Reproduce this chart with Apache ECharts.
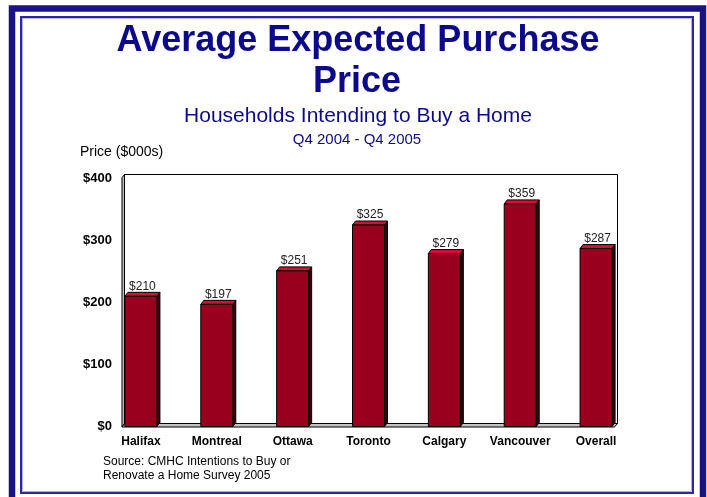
<!DOCTYPE html>
<html>
<head>
<meta charset="utf-8">
<script src="https://cdn.jsdelivr.net/npm/echarts@6/dist/echarts.min.js"></script>
<style>
  html, body { margin: 0; padding: 0; background: #fff; }
  #chart { width: 707px; height: 497px; }
</style>
</head>
<body>
<div id="chart"></div>
<script>
// data
const cities = ['Halifax', 'Montreal', 'Ottawa', 'Toronto', 'Calgary', 'Vancouver', 'Overall'];
const prices = [210, 197, 251, 325, 279, 359, 287];
const yMin = 0;
const yMax = 400;
const yStep = 100;

const FONT = "'Liberation Sans', Arial, sans-serif";
const NAVY = '#0c0a8a';

// 3D bar: front face, top face, right side, value label
const renderBar = (params, api) => {
  const idx = api.value(0);
  const val = api.value(1);
  const top = api.coord([idx, val]);
  const base = api.coord([idx, 0]);
  const half = 16, dx = 3, dy = 4;
  const L = top[0] - half, R = top[0] + half, T = top[1], B = base[1];
  const edge = { stroke: '#000', lineWidth: 1 };
  return {
    type: 'group',
    children: [
      { type: 'polygon', shape: { points: [[R, T], [R + dx, T - dy], [R + dx, B - dy], [R, B]] },
        style: Object.assign({ fill: '#3a0008' }, edge) },
      { type: 'polygon', shape: { points: [[L, T], [R, T], [R + dx, T - dy], [L + dx, T - dy]] },
        style: Object.assign({ fill: '#dc0a34' }, edge) },
      { type: 'rect', shape: { x: L, y: T, width: R - L, height: B - T },
        style: Object.assign({ fill: '#98001e' }, edge) },
      { type: 'text', style: { text: '$' + val, x: top[0] + 1.5, y: T - 10,
        align: 'center', verticalAlign: 'middle', font: '12px ' + FONT, fill: '#222' } }
    ]
  };
};

const chart = echarts.init(document.getElementById('chart'), null, { renderer: 'canvas' });

const option = {
  animation: false,
  grid: { left: 103, right: 73, top: 178.5, bottom: 70.5, containLabel: false },
  xAxis: {
    type: 'category',
    data: cities,
    axisLine: { show: false },
    axisTick: { show: false },
    axisLabel: { interval: 0, margin: 9, fontFamily: FONT, fontSize: 12, fontWeight: 'bold', color: '#000' }
  },
  yAxis: {
    type: 'value',
    min: yMin,
    max: yMax,
    interval: yStep,
    axisLine: { show: false },
    axisTick: { show: false },
    splitLine: { show: false },
    axisLabel: {
      margin: -9,
      fontFamily: FONT, fontSize: 13, fontWeight: 'bold', color: '#000',
      formatter: (v) => '$' + v
    }
  },
  graphic: [
    // outer frame
    { type: 'rect', z: 0, shape: { x: 12, y: 8.5, width: 691, height: 500 },
      style: { fill: 'none', stroke: '#1a1284', lineWidth: 6.5 } },
    { type: 'rect', z: 0, shape: { x: 21, y: 17, width: 672, height: 476 },
      style: { fill: 'none', stroke: '#2d279a', lineWidth: 2 } },
    { type: 'rect', z: 0, shape: { x: 22.5, y: 18.5, width: 669, height: 473 },
      style: { fill: 'none', stroke: '#b4b2e2', lineWidth: 1 } },
    // back wall, left wall, floor
    { type: 'rect', z: 1, shape: { x: 124.5, y: 174.5, width: 493, height: 249 },
      style: { fill: '#fff', stroke: '#000', lineWidth: 1 } },
    { type: 'polygon', z: 1, shape: { points: [[122, 177.5], [124.5, 174.5], [124.5, 423.5], [122, 427]] },
      style: { fill: '#bdbdbd', stroke: '#000', lineWidth: 1 } },
    { type: 'polygon', z: 1, shape: { points: [[122, 427], [614.5, 427], [617.5, 423.5], [124.5, 423.5]] },
      style: { fill: '#c4c4c4', stroke: '#000', lineWidth: 1 } },
    // titles
    { type: 'text', z: 3, style: { text: 'Average Expected Purchase', x: 358, y: 41,
      align: 'center', verticalAlign: 'middle', font: 'bold 36px ' + FONT, fill: NAVY } },
    { type: 'text', z: 3, style: { text: 'Price', x: 357, y: 82,
      align: 'center', verticalAlign: 'middle', font: 'bold 36px ' + FONT, fill: NAVY } },
    { type: 'text', z: 3, style: { text: 'Households Intending to Buy a Home', x: 358, y: 116,
      align: 'center', verticalAlign: 'middle', font: '21px ' + FONT, fill: NAVY } },
    { type: 'text', z: 3, style: { text: 'Q4 2004 - Q4 2005', x: 357, y: 140,
      align: 'center', verticalAlign: 'middle', font: '15px ' + FONT, fill: NAVY } },
    { type: 'text', z: 3, style: { text: 'Price ($000s)', x: 80, y: 152,
      align: 'left', verticalAlign: 'middle', font: '14px ' + FONT, fill: '#000' } },
    { type: 'text', z: 3, style: { text: 'Source: CMHC Intentions to Buy or', x: 103, y: 462,
      align: 'left', verticalAlign: 'middle', font: '12px ' + FONT, fill: '#000' } },
    { type: 'text', z: 3, style: { text: 'Renovate a Home Survey 2005', x: 103, y: 476,
      align: 'left', verticalAlign: 'middle', font: '12px ' + FONT, fill: '#000' } }
  ],
  series: [
    {
      type: 'custom',
      z: 5,
      renderItem: renderBar,
      encode: { x: 0, y: 1 },
      data: prices.map((v, i) => [i, v])
    }
  ]
};

chart.setOption(option);
</script>
</body>
</html>
